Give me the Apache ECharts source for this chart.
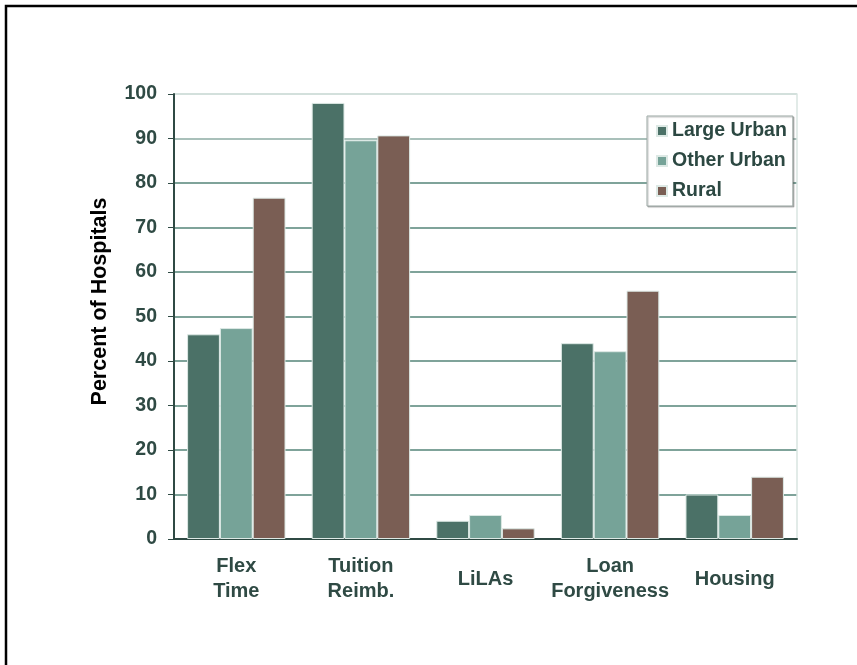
<!DOCTYPE html>
<html>
<head>
<meta charset="utf-8">
<script src="https://cdn.jsdelivr.net/npm/echarts@6/dist/echarts.min.js"></script>
<style>
  html, body { margin: 0; padding: 0; background: #fff; }
  #chart { width: 857px; height: 665px; }
</style>
</head>
<body>
<div id="chart"></div>
<script>
var categories = ['Flex\nTime', 'Tuition\nReimb.', 'LiLAs', 'Loan\nForgiveness', 'Housing'];
var largeUrban = [46.0, 98.0, 4.1, 44.0, 10.0];
var otherUrban = [47.4, 89.6, 5.4, 42.2, 5.4];
var rural = [76.7, 90.7, 2.4, 55.8, 14.0];
var seriesNames = ['Large Urban', 'Other Urban', 'Rural'];

var myChart = echarts.init(document.getElementById('chart'));

var textColor = '#2f4a44';
var gridColor = '#7fa39a';
var font = 'Liberation Sans, Arial, sans-serif';

var option;

function bar(name, data, color) {
    return {
        name: name,
        type: 'bar',
        data: data,
        barGap: '0%',
        barCategoryGap: '21%',
        itemStyle: { color: color, borderColor: '#dde9e5', borderWidth: 1 },
        emphasis: { disabled: true }
    };
}

option = {
    animation: false,
    graphic: [{
        type: 'rect',
        shape: { x: 6, y: 6, width: 1000, height: 1000 },
        style: { fill: 'none', stroke: '#000', lineWidth: 2.5 },
        silent: true
    }],
    legend: {
        data: seriesNames,
        orient: 'vertical',
        left: 647,
        top: 116,
        padding: [5, 6, 5, 9],
        itemGap: 10,
        itemWidth: 10,
        itemHeight: 10,
        icon: 'rect',
        borderColor: '#9aa7a3',
        borderWidth: 1,
        backgroundColor: '#fff',
        shadowColor: 'rgba(0,0,0,0.25)',
        shadowOffsetX: 1,
        shadowOffsetY: 1,
        shadowBlur: 1,
        textStyle: {
            color: '#2c4842',
            fontFamily: font,
            fontWeight: 'bold',
            fontSize: 19.5
        }
    },
    grid: {
        left: 174,
        right: 60,
        top: 94,
        bottom: 126
    },
    xAxis: {
        type: 'category',
        data: categories,
        axisLine: { lineStyle: { color: textColor, width: 2 } },
        axisTick: { show: false },
        axisLabel: {
            color: textColor,
            fontFamily: font,
            fontWeight: 'bold',
            fontSize: 20,
            lineHeight: 25,
            verticalAlign: 'middle',
            margin: 40,
            interval: 0
        }
    },
    yAxis: [{
        type: 'value',
        min: 0,
        max: 100,
        interval: 10,
        name: 'Percent of Hospitals',
        nameLocation: 'middle',
        nameGap: 63,
        nameTextStyle: {
            color: '#000',
            fontFamily: font,
            fontWeight: 'bold',
            fontSize: 21.5,
            padding: [0, 0, 0, 30]
        },
        axisLine: { show: true, lineStyle: { color: textColor, width: 2 } },
        axisTick: { show: true, length: 6, lineStyle: { color: textColor, width: 1 } },
        axisLabel: {
            color: textColor,
            fontFamily: font,
            fontWeight: 'bold',
            fontSize: 19.5,
            margin: 17
        },
        splitLine: {
            lineStyle: {
                color: [gridColor, gridColor, gridColor, gridColor, gridColor, gridColor,
                        gridColor, gridColor, gridColor, '#a9c0ba', '#d3e0dc'],
                width: 2
            }
        }
    }, {
        type: 'value',
        min: 0,
        max: 100,
        interval: 10,
        position: 'right',
        axisLine: { show: true, lineStyle: { color: '#d8e4e0', width: 1.5 } },
        axisTick: { show: false },
        axisLabel: { show: false },
        splitLine: { show: false }
    }],
    series: [
        bar(seriesNames[0], largeUrban, '#4b7167'),
        bar(seriesNames[1], otherUrban, '#76a398'),
        bar(seriesNames[2], rural, '#7a5e54')
    ]
};

if (option && typeof option === 'object') {
    myChart.setOption(option);
}
</script>
</body>
</html>
